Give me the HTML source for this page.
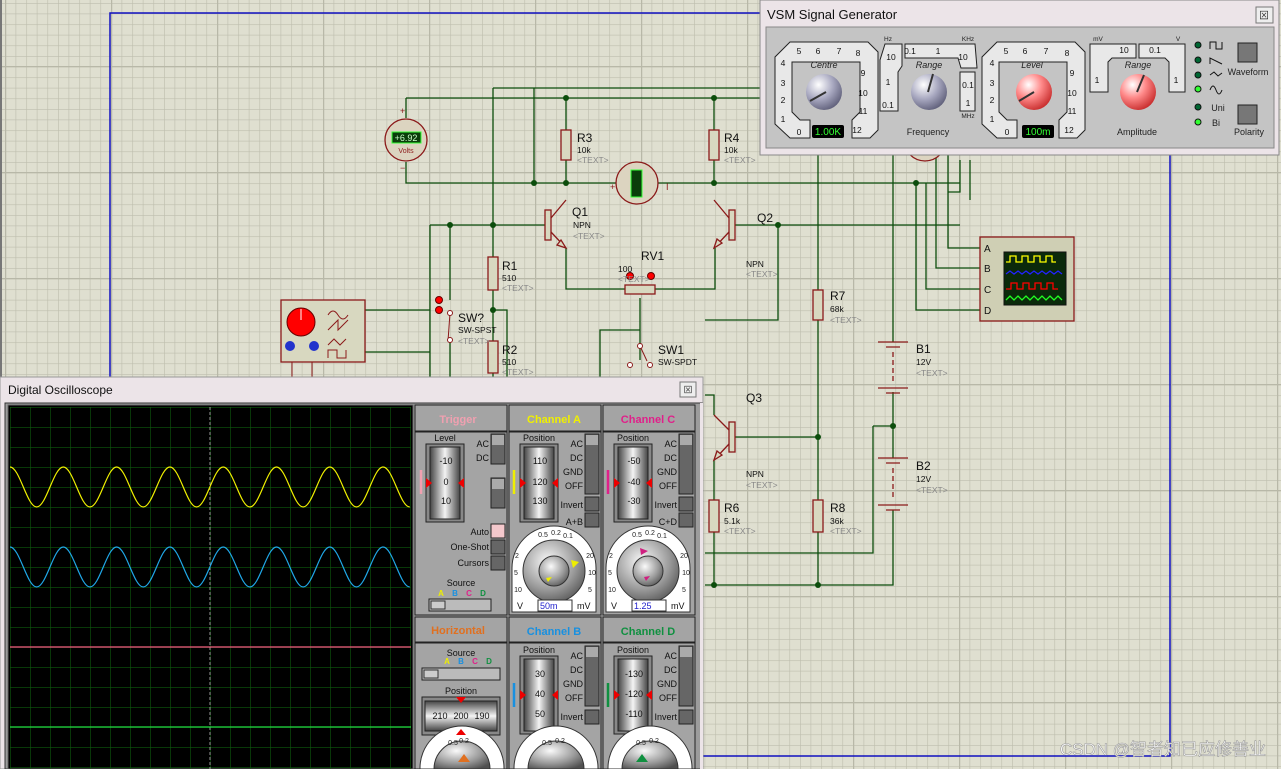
<!DOCTYPE html>
<html><head><meta charset="utf-8"><style>
html,body{margin:0;padding:0;width:1281px;height:769px;overflow:hidden;background:#dfdfd0}
svg{display:block}
text{font-family:"Liberation Sans","Noto Sans CJK SC",sans-serif}
</style></head><body>
<svg width="1281" height="769" viewBox="0 0 1281 769" xmlns="http://www.w3.org/2000/svg">
<defs>
<clipPath id="cp"><rect x="0" y="0" width="1281" height="769"/></clipPath>
<pattern id="g" x="5" y="3" width="10.6" height="10.6" patternUnits="userSpaceOnUse"><path d="M0 0H10.6M0 0V10.6" stroke="#bdbdad" stroke-width="1.2" fill="none"/></pattern>
<pattern id="G" x="111" y="66" width="106" height="106" patternUnits="userSpaceOnUse"><path d="M0 0H106M0 0V106" stroke="#b8b8a8" stroke-width="2.5" fill="none"/></pattern>
<pattern id="sg" x="10" y="407" width="20" height="20" patternUnits="userSpaceOnUse"><path d="M0 0H20M0 0V20" stroke="#0d5a0d" stroke-width="1.2" fill="none"/></pattern>
<radialGradient id="kb" cx="0.35" cy="0.3" r="0.8"><stop offset="0" stop-color="#fff"/><stop offset="0.5" stop-color="#a8a8c0"/><stop offset="1" stop-color="#555570"/></radialGradient>
<radialGradient id="kr" cx="0.35" cy="0.3" r="0.8"><stop offset="0" stop-color="#fff"/><stop offset="0.45" stop-color="#ff8a8a"/><stop offset="1" stop-color="#c02020"/></radialGradient>
<radialGradient id="kg" cx="0.4" cy="0.35" r="0.75"><stop offset="0" stop-color="#fafafa"/><stop offset="0.6" stop-color="#9a9a9a"/><stop offset="1" stop-color="#505050"/></radialGradient>
<linearGradient id="dr" x1="0" y1="0" x2="0" y2="1"><stop offset="0" stop-color="#444"/><stop offset="0.5" stop-color="#f4f4f4"/><stop offset="1" stop-color="#444"/></linearGradient>
<linearGradient id="dh" x1="0" y1="0" x2="1" y2="0"><stop offset="0" stop-color="#444"/><stop offset="0.5" stop-color="#f4f4f4"/><stop offset="1" stop-color="#444"/></linearGradient>
</defs>
<g clip-path="url(#cp)">
<rect width="1281" height="769" fill="#dfdfd0"/>
<rect width="1281" height="769" fill="url(#g)"/>
<rect width="1281" height="769" fill="url(#G)"/>
<rect x="0" y="0" width="2" height="769" fill="#777"/>
<path d="M110 769V13H1170V756H110" stroke="#1010c0" stroke-width="1.5" fill="none"/>

<g stroke="#0c4d0c" stroke-width="1.3" fill="none">
<path d="M406 98H960M493 88H960M406 118V98M406 162V183H960"/>
<path d="M566 98V130M566 160V183M714 98V130M714 160V183"/>
<path d="M534 88V183M493 88V257M493 290V341M493 373V390"/>
<path d="M430 225H548M430 225V390M450 225V300M450 340V390"/>
<path d="M566 248V289H625M655 289H715V248"/>
<path d="M640 298V330M640 330H600V390M640 330V360"/>
<path d="M493 310H507V390"/>
<path d="M732 225H960M778 225V320H705"/>
<path d="M365 310H430M365 352H430"/>
<path d="M818 88V290M818 320V500M818 532V585"/>
<path d="M893 150V342M893 392V458M893 510V585H705M873 426H893M873 426V553H705"/>
<path d="M732 437H818M714 415V395H705M714 460V500M714 532V585"/>
<path d="M948 150V248H985M936 150V268H985M926 183V289H985M916 183V310H985"/>
<path d="M960 160V192H948M970 160V200"/>
</g>
<g fill="#0c4d0c">
<circle cx="566" cy="98" r="3"/><circle cx="714" cy="98" r="3"/><circle cx="566" cy="183" r="3"/><circle cx="714" cy="183" r="3"/><circle cx="534" cy="183" r="3"/>
<circle cx="450" cy="225" r="3"/><circle cx="493" cy="225" r="3"/><circle cx="493" cy="310" r="3"/><circle cx="778" cy="225" r="3"/>
<circle cx="818" cy="437" r="3"/><circle cx="818" cy="585" r="3"/><circle cx="714" cy="585" r="3"/><circle cx="893" cy="426" r="3"/><circle cx="916" cy="183" r="3"/>
</g>
<g fill="#d8d8c0" stroke="#8b1a1a" stroke-width="1.3">
<rect x="561" y="130" width="10" height="30"/><rect x="709" y="130" width="10" height="30"/>
<rect x="488" y="257" width="10" height="33"/><rect x="488" y="341" width="10" height="32"/>
<rect x="813" y="290" width="10" height="30"/><rect x="813" y="500" width="10" height="32"/><rect x="709" y="500" width="10" height="32"/>
<rect x="625" y="285" width="30" height="9"/>
</g>
<g stroke="#8b1a1a" stroke-width="1.3" fill="#d8d8c0">
<rect x="545" y="210" width="6" height="30"/><path d="M551 218L566 200M551 232L566 248" fill="none"/><path d="M566 248l-9 -3l4 -5z"/>
<rect x="729" y="210" width="6" height="30"/><path d="M729 218L714 200M729 232L714 248" fill="none"/><path d="M714 248l3 -9l5 4z"/>
<rect x="729" y="422" width="6" height="30"/><path d="M729 430L714 415M729 444L714 460" fill="none"/><path d="M714 460l3 -9l5 4z"/>
</g>
<g stroke="#8b1a1a" stroke-width="1.3" fill="#dcd4c0">
<circle cx="406" cy="140" r="21"/><circle cx="637" cy="183" r="21"/><circle cx="925" cy="140" r="21"/>
</g>
<rect x="392" y="132" width="29" height="11" fill="#0b3d0b" stroke="#3f3" stroke-width="1"/>
<text x="406" y="141" font-size="9" fill="#cfc" text-anchor="middle">+6.92</text>
<text x="406" y="153" font-size="7" fill="#8b1a1a" text-anchor="middle">Volts</text>
<rect x="631" y="170" width="11" height="27" fill="#0b3d0b" stroke="#3f3" stroke-width="1"/>
<text x="400" y="114" font-size="9" fill="#8b1a1a">+</text><text x="400" y="171" font-size="9" fill="#8b1a1a">−</text>
<text x="610" y="190" font-size="9" fill="#8b1a1a">+</text><text x="666" y="190" font-size="9" fill="#8b1a1a">I</text>
<g stroke="#8b1a1a" stroke-width="1.3">
<path d="M878 342H908M886 347H900M878 388H908M886 393H900"/>
<path d="M893 352V384" stroke-dasharray="5 3"/>
<path d="M878 458H908M886 463H900M878 505H908M886 510H900"/>
<path d="M893 468V500" stroke-dasharray="5 3"/>
</g>
<rect x="281" y="300" width="84" height="62" fill="#d8d8c0" stroke="#8b1a1a" stroke-width="1.3"/>
<circle cx="301" cy="322" r="14" fill="#f00" stroke="#600"/><path d="M301 309V320" stroke="#fff"/>
<circle cx="290" cy="346" r="5" fill="#2233cc"/><circle cx="314" cy="346" r="5" fill="#2233cc"/>
<path d="M328 315q5 -8 10 0t10 0M328 330l10 -10v10l10 -10M328 345l6 -6 6 6 6 -6M328 358v-8h9v8h9v-8" stroke="#8b1a1a" fill="none"/>
<path d="M292 362v15M312 362v15" stroke="#8b1a1a"/>
<g fill="#f00" stroke="#600"><circle cx="439" cy="300" r="3.5"/><circle cx="439" cy="310" r="3.5"/><circle cx="630" cy="276" r="3.5"/><circle cx="651" cy="276" r="3.5"/></g>
<path d="M450 313l-2 28" stroke="#8b1a1a" fill="none"/><circle cx="450" cy="313" r="2.5" fill="#fff" stroke="#8b1a1a"/><circle cx="450" cy="340" r="2.5" fill="#fff" stroke="#8b1a1a"/>
<path d="M640 346l7 15" stroke="#8b1a1a"/><circle cx="640" cy="346" r="2.5" fill="#fff" stroke="#8b1a1a"/><circle cx="630" cy="365" r="2.5" fill="#fff" stroke="#8b1a1a"/><circle cx="650" cy="365" r="2.5" fill="#fff" stroke="#8b1a1a"/>
<rect x="980" y="237" width="94" height="84" fill="#cfcfb4" stroke="#8b1a1a" stroke-width="1.3"/>
<rect x="1004" y="252" width="62" height="53" fill="#0b2a0b" stroke="#111"/>
<path d="M1006 262h4v-6h6v6h6v-6h6v6h6v-6h6v6h6v-6h6v6h4" stroke="#ff0" fill="none" stroke-width="1.3"/>
<path d="M1006 274l4 -3 4 3 4 -3 4 3 4 -3 4 3 4 -3 4 3 4 -3 4 3 4 -3 4 3 4 -3 4 3" stroke="#22f" fill="none" stroke-width="1.3"/>
<path d="M1006 289h5v-6h6v6h6v-6h6v6h6v-6h6v6h6v-6h6v6h5" stroke="#f00" fill="none" stroke-width="1.3"/>
<path d="M1006 300l4 -4 4 4 4 -4 4 4 4 -4 4 4 4 -4 4 4 4 -4 4 4 4 -4 4 4 4 -4 4 4" stroke="#2f2" fill="none" stroke-width="1.3"/>
<g font-size="10" fill="#111"><text x="984" y="252">A</text><text x="984" y="272">B</text><text x="984" y="293">C</text><text x="984" y="314">D</text></g>
<g fill="#111">
<g font-size="12"><text x="577" y="142">R3</text><text x="724" y="142">R4</text><text x="572" y="216">Q1</text><text x="757" y="222">Q2</text><text x="641" y="260">RV1</text><text x="502" y="270">R1</text><text x="502" y="354">R2</text><text x="458" y="322">SW?</text><text x="658" y="354">SW1</text><text x="830" y="300">R7</text><text x="916" y="353">B1</text><text x="916" y="470">B2</text><text x="746" y="402">Q3</text><text x="724" y="512">R6</text><text x="830" y="512">R8</text></g>
<g font-size="8.5"><text x="577" y="153">10k</text><text x="724" y="153">10k</text><text x="573" y="228">NPN</text><text x="746" y="267">NPN</text><text x="618" y="272">100</text><text x="502" y="281">510</text><text x="502" y="365">510</text><text x="458" y="333">SW-SPST</text><text x="658" y="365">SW-SPDT</text><text x="830" y="312">68k</text><text x="916" y="365">12V</text><text x="916" y="482">12V</text><text x="746" y="477">NPN</text><text x="724" y="524">5.1k</text><text x="830" y="524">36k</text></g>
</g>
<g fill="#888" font-size="8.5"><text x="577" y="163">&lt;TEXT&gt;</text><text x="724" y="163">&lt;TEXT&gt;</text><text x="573" y="239">&lt;TEXT&gt;</text><text x="746" y="277">&lt;TEXT&gt;</text><text x="618" y="282">&lt;TEXT&gt;</text><text x="502" y="291">&lt;TEXT&gt;</text><text x="502" y="375">&lt;TEXT&gt;</text><text x="458" y="344">&lt;TEXT&gt;</text><text x="830" y="323">&lt;TEXT&gt;</text><text x="916" y="376">&lt;TEXT&gt;</text><text x="916" y="493">&lt;TEXT&gt;</text><text x="746" y="488">&lt;TEXT&gt;</text><text x="724" y="534">&lt;TEXT&gt;</text><text x="830" y="534">&lt;TEXT&gt;</text></g>
<text x="1266" y="755" font-size="17" fill="#fff" stroke="#999" stroke-width="0.6" text-anchor="end">CSDN @智者知已应修善业</text>

<rect x="760" y="0" width="519" height="155" fill="#ece4e8" stroke="#888"/>
<text x="767" y="19" font-size="13" fill="#111">VSM Signal Generator</text>
<rect x="1256" y="7" width="17" height="16" fill="#eee" stroke="#777"/><text x="1264" y="19" font-size="10" text-anchor="middle" fill="#333">⊠</text>
<rect x="766" y="27" width="508" height="121" fill="#c4c4c4" stroke="#888"/>
<g fill="#e8e8e8" stroke="#222" stroke-width="1">
<path d="M790 42H868L878 52V130L870 138H852V120L860 112V62H792V112L800 120H810V138H790L775 124V57Z"/>
<path d="M885 44H902V66L898 72V111H880V60Z"/><path d="M905 44H975L977 68H961L958 58H905Z"/><path d="M960 72H975V111H960Z"/>
<path d="M997 42H1075L1085 52V130L1077 138H1059V120L1067 112V62H999V112L1007 120H1017V138H997L982 124V57Z"/>
<path d="M1090 44H1136V58H1112L1108 62V92H1090Z"/><path d="M1139 44H1185V92H1169V62L1165 58H1139Z"/>
</g>
<g font-size="8.5" fill="#111" text-anchor="middle">
<text x="799" y="54">5</text><text x="818" y="54">6</text><text x="839" y="54">7</text><text x="858" y="56">8</text><text x="783" y="66">4</text><text x="783" y="86">3</text><text x="783" y="103">2</text><text x="783" y="122">1</text><text x="799" y="135">0</text><text x="863" y="76">9</text><text x="863" y="96">10</text><text x="863" y="114">11</text><text x="857" y="133">12</text>
<text x="1006" y="54">5</text><text x="1025" y="54">6</text><text x="1046" y="54">7</text><text x="1067" y="56">8</text><text x="992" y="66">4</text><text x="992" y="86">3</text><text x="992" y="103">2</text><text x="992" y="122">1</text><text x="1007" y="135">0</text><text x="1072" y="76">9</text><text x="1072" y="96">10</text><text x="1072" y="114">11</text><text x="1069" y="133">12</text>
<text x="891" y="60">10</text><text x="888" y="85">1</text><text x="888" y="108">0.1</text><text x="910" y="54">0.1</text><text x="938" y="54">1</text><text x="963" y="60">10</text><text x="968" y="88">0.1</text><text x="968" y="106">1</text>
<text x="1124" y="53">10</text><text x="1097" y="83">1</text><text x="1155" y="53">0.1</text><text x="1176" y="83">1</text>
</g>
<g font-size="6.5" fill="#222" text-anchor="middle"><text x="888" y="41">Hz</text><text x="968" y="41">KHz</text><text x="968" y="118">MHz</text><text x="1098" y="41">mV</text><text x="1178" y="41">V</text></g>
<g font-size="9" fill="#222" text-anchor="middle" font-style="italic"><text x="824" y="68">Centre</text><text x="929" y="68">Range</text><text x="1032" y="68">Level</text><text x="1138" y="68">Range</text></g>
<g font-size="9" fill="#222" text-anchor="middle"><text x="928" y="135">Frequency</text><text x="1137" y="135">Amplitude</text><text x="1248" y="75">Waveform</text><text x="1249" y="135">Polarity</text><text x="1218" y="111">Uni</text><text x="1216" y="126">Bi</text></g>
<circle cx="824" cy="92" r="18" fill="url(#kb)"/><path d="M810 101L826 92" stroke="#333" stroke-width="2"/>
<circle cx="929" cy="92" r="18" fill="url(#kb)"/><path d="M928 92L933 74" stroke="#333" stroke-width="2"/>
<circle cx="1034" cy="92" r="18" fill="url(#kr)"/><path d="M1019 101L1034 92" stroke="#333" stroke-width="2"/>
<circle cx="1138" cy="92" r="18" fill="url(#kr)"/><path d="M1137 92L1144 75" stroke="#333" stroke-width="2"/>
<rect x="812" y="125" width="32" height="13" rx="2" fill="#000"/><text x="828" y="135" font-size="10" fill="#3f3" text-anchor="middle">1.00K</text>
<rect x="1022" y="125" width="32" height="13" rx="2" fill="#000"/><text x="1038" y="135" font-size="10" fill="#3f3" text-anchor="middle">100m</text>
<g stroke="#111"><circle cx="1198" cy="45" r="3" fill="#063"/><circle cx="1198" cy="60" r="3" fill="#063"/><circle cx="1198" cy="75" r="3" fill="#063"/><circle cx="1198" cy="89" r="3" fill="#3f3"/><circle cx="1198" cy="107" r="3" fill="#063"/><circle cx="1198" cy="122" r="3" fill="#3f3"/></g>
<path d="M1210 49v-7h6v7h6v-7M1210 64v-6l12 6M1210 75l4 -3 4 4 4 -3M1210 90q3 -8 6 0t6 0" stroke="#111" fill="none"/>
<rect x="1238" y="43" width="19" height="19" fill="#777" stroke="#222"/><rect x="1238" y="105" width="19" height="19" fill="#777" stroke="#222"/>

<rect x="0" y="377" width="703" height="392" fill="#ece4e8" stroke="#999"/>
<text x="8" y="394" font-size="12" fill="#111">Digital Oscilloscope</text>
<rect x="680" y="382" width="16" height="15" fill="#eee" stroke="#777"/><text x="688" y="393" font-size="9" text-anchor="middle" fill="#333">⊠</text>
<rect x="5" y="403" width="697" height="366" fill="#9c9c9c" stroke="#333"/>
<rect x="8" y="405" width="405" height="364" fill="#000" stroke="#666"/>
<rect x="10" y="407" width="401" height="362" fill="url(#sg)"/>
<path d="M210 407V769" stroke="#999" stroke-dasharray="3 2"/>
<path d="M10 647H411" stroke="#f56080" stroke-width="1.2"/>
<path d="M10 727H411" stroke="#20e040" stroke-width="1.2"/>
<path d="M10 467C19.7 467 26.95 507 36.65 507S53.6 467 63.3 467S80.25 507 89.95 507S106.9 467 116.6 467S133.55 507 143.25 507S160.2 467 169.9 467S186.85 507 196.55 507S213.5 467 223.2 467S240.15 507 249.850 507S266.8 467 276.5 467S293.45 507 303.15 507S320.1 467 329.8 467S346.75 507 356.45 507S373.4 467 383.1 467S400.05 507 409.75 507" stroke="#f0f000" fill="none" stroke-width="1.2"/>
<path d="M10 547C19.7 547 26.95 587 36.65 587S53.6 547 63.3 547S80.25 587 89.95 587S106.9 547 116.6 547S133.55 587 143.25 587S160.2 547 169.9 547S186.85 587 196.55 587S213.5 547 223.2 547S240.15 587 249.85 587S266.8 547 276.5 547S293.45 587 303.15 587S320.1 547 329.8 547S346.75 587 356.45 587S373.4 547 383.1 547S400.05 587 409.75 587" stroke="#20a8e8" fill="none" stroke-width="1.2"/>
<g fill="#a4a4a4" stroke="#222" stroke-width="1">
<rect x="415" y="405" width="92" height="26"/><rect x="509" y="405" width="92" height="26"/><rect x="603" y="405" width="92" height="26"/>
<rect x="415" y="432" width="92" height="183"/><rect x="509" y="432" width="92" height="183"/><rect x="603" y="432" width="92" height="183"/>
<rect x="415" y="617" width="92" height="25"/><rect x="509" y="617" width="92" height="25"/><rect x="603" y="617" width="92" height="25"/>
<rect x="415" y="643" width="92" height="126"/><rect x="509" y="643" width="92" height="126"/><rect x="603" y="643" width="92" height="126"/>
</g>
<g font-size="11" font-weight="bold" text-anchor="middle"><text x="458" y="423" fill="#f0a0b0">Trigger</text><text x="554" y="423" fill="#f0f000">Channel A</text><text x="648" y="423" fill="#e0208a">Channel C</text><text x="458" y="634" fill="#e07020">Horizontal</text><text x="554" y="635" fill="#1890e0">Channel B</text><text x="648" y="635" fill="#109040">Channel D</text></g>
<g stroke="#222"><rect x="426" y="444" width="38" height="78" fill="#888"/><rect x="430" y="447" width="30" height="72" fill="url(#dh)"/>
<rect x="520" y="444" width="38" height="78" fill="#888"/><rect x="524" y="447" width="30" height="72" fill="url(#dh)"/>
<rect x="614" y="444" width="38" height="78" fill="#888"/><rect x="618" y="447" width="30" height="72" fill="url(#dh)"/>
<rect x="520" y="656" width="38" height="78" fill="#888"/><rect x="524" y="659" width="30" height="72" fill="url(#dh)"/>
<rect x="614" y="656" width="38" height="78" fill="#888"/><rect x="618" y="659" width="30" height="72" fill="url(#dh)"/>
<rect x="422" y="697" width="78" height="38" fill="#888"/><rect x="425" y="701" width="72" height="30" fill="url(#dr)"/></g>
<g font-size="9" fill="#111" text-anchor="middle">
<text x="445" y="441">Level</text><text x="539" y="441">Position</text><text x="633" y="441">Position</text><text x="539" y="653">Position</text><text x="633" y="653">Position</text><text x="461" y="656">Source</text><text x="461" y="694">Position</text><text x="461" y="586">Source</text>
<text x="446" y="464">-10</text><text x="446" y="485">0</text><text x="446" y="504">10</text>
<text x="540" y="464">110</text><text x="540" y="485">120</text><text x="540" y="504">130</text>
<text x="634" y="464">-50</text><text x="634" y="485">-40</text><text x="634" y="504">-30</text>
<text x="540" y="677">30</text><text x="540" y="697">40</text><text x="540" y="717">50</text>
<text x="634" y="677">-130</text><text x="634" y="697">-120</text><text x="634" y="717">-110</text>
<text x="440" y="719">210</text><text x="461" y="719">200</text><text x="482" y="719">190</text>
</g>
<g font-size="9" fill="#111" text-anchor="end">
<text x="489" y="447">AC</text><text x="489" y="461">DC</text><text x="489" y="535">Auto</text><text x="489" y="550">One-Shot</text><text x="489" y="566">Cursors</text>
<text x="583" y="447">AC</text><text x="583" y="461">DC</text><text x="583" y="475">GND</text><text x="583" y="489">OFF</text><text x="583" y="508">Invert</text><text x="583" y="525">A+B</text>
<text x="677" y="447">AC</text><text x="677" y="461">DC</text><text x="677" y="475">GND</text><text x="677" y="489">OFF</text><text x="677" y="508">Invert</text><text x="677" y="525">C+D</text>
<text x="583" y="659">AC</text><text x="583" y="673">DC</text><text x="583" y="687">GND</text><text x="583" y="701">OFF</text><text x="583" y="720">Invert</text>
<text x="677" y="659">AC</text><text x="677" y="673">DC</text><text x="677" y="687">GND</text><text x="677" y="701">OFF</text><text x="677" y="720">Invert</text>
</g>
<g fill="#666" stroke="#222"><rect x="491" y="434" width="14" height="30"/><rect x="491" y="478" width="14" height="30"/><rect x="585" y="434" width="14" height="60"/><rect x="679" y="434" width="14" height="60"/><rect x="585" y="646" width="14" height="60"/><rect x="679" y="646" width="14" height="60"/>
<rect x="491" y="540" width="14" height="14"/><rect x="491" y="556" width="14" height="14"/><rect x="585" y="497" width="14" height="14"/><rect x="585" y="513" width="14" height="14"/><rect x="679" y="497" width="14" height="14"/><rect x="679" y="513" width="14" height="14"/><rect x="585" y="710" width="14" height="14"/><rect x="679" y="710" width="14" height="14"/></g>
<rect x="491" y="524" width="14" height="14" fill="#f4c8cc" stroke="#222"/>
<g fill="#aaa"><rect x="492" y="435" width="12" height="10"/><rect x="492" y="479" width="12" height="10"/><rect x="586" y="435" width="12" height="10"/><rect x="680" y="435" width="12" height="10"/><rect x="586" y="647" width="12" height="10"/><rect x="680" y="647" width="12" height="10"/></g>
<g font-size="8" font-weight="bold" text-anchor="middle"><text x="441" y="596" fill="#ee0">A</text><text x="455" y="596" fill="#1890e0">B</text><text x="469" y="596" fill="#e0208a">C</text><text x="483" y="596" fill="#109040">D</text><text x="447" y="664" fill="#ee0">A</text><text x="461" y="664" fill="#1890e0">B</text><text x="475" y="664" fill="#e0208a">C</text><text x="489" y="664" fill="#109040">D</text></g>
<rect x="429" y="599" width="62" height="12" fill="#bbb" stroke="#222"/><rect x="431" y="601" width="14" height="8" fill="#ccc" stroke="#333"/>
<rect x="422" y="668" width="78" height="12" fill="#bbb" stroke="#222"/><rect x="424" y="670" width="14" height="8" fill="#ccc" stroke="#333"/>
<g stroke="#333">
<path d="M512 612V568A42 42 0 0 1 596 568V612Z" fill="#fff"/><circle cx="554" cy="571" r="31" fill="url(#kg)"/><circle cx="554" cy="571" r="15" fill="url(#kg)"/>
<path d="M606 612V568A42 42 0 0 1 690 568V612Z" fill="#fff"/><circle cx="648" cy="571" r="31" fill="url(#kg)"/><circle cx="648" cy="571" r="15" fill="url(#kg)"/>
<path d="M420 769V768A42 42 0 0 1 504 768V769Z" fill="#fff"/><path d="M514 769V768A42 42 0 0 1 598 768V769Z" fill="#fff"/><path d="M608 769V768A42 42 0 0 1 692 768V769Z" fill="#fff"/>
<path d="M434 769A28 28 0 0 1 490 769Z" fill="url(#kg)"/><path d="M528 769A28 28 0 0 1 584 769Z" fill="url(#kg)"/><path d="M622 769A28 28 0 0 1 678 769Z" fill="url(#kg)"/>
</g>
<g font-size="7" fill="#222" text-anchor="middle">
<text x="543" y="537">0.5</text><text x="556" y="535">0.2</text><text x="568" y="538">0.1</text><text x="517" y="558">2</text><text x="516" y="575">5</text><text x="518" y="592">10</text><text x="590" y="558">20</text><text x="592" y="575">10</text><text x="590" y="592">5</text>
<text x="637" y="537">0.5</text><text x="650" y="535">0.2</text><text x="662" y="538">0.1</text><text x="611" y="558">2</text><text x="610" y="575">5</text><text x="612" y="592">10</text><text x="684" y="558">20</text><text x="686" y="575">10</text><text x="684" y="592">5</text>
<text x="453" y="745">0.5</text><text x="464" y="743">0.2</text><text x="547" y="745">0.5</text><text x="560" y="743">0.2</text><text x="641" y="745">0.5</text><text x="654" y="743">0.2</text>
</g>
<rect x="538" y="600" width="34" height="11" fill="#fff" stroke="#333"/><text x="540" y="609" font-size="9" fill="#22c">50m</text>
<rect x="632" y="600" width="34" height="11" fill="#fff" stroke="#333"/><text x="634" y="609" font-size="9" fill="#22c">1.25</text>
<g font-size="9" fill="#111"><text x="517" y="609">V</text><text x="577" y="609">mV</text><text x="611" y="609">V</text><text x="671" y="609">mV</text></g>
<path d="M571 560l8 2-6 6z" fill="#ee0"/><path d="M546 578l6 -1-4 5z" fill="#ee0"/>
<path d="M640 548l8 3-7 4z" fill="#d02080"/><path d="M644 577l6 -1-4 5z" fill="#d02080"/>
<path d="M458 762l6 -8 6 8z" fill="#e07020"/><path d="M636 762l6 -8 6 8z" fill="#109040"/>
<g fill="#e00"><path d="M426 478l6 5-6 5z"/><path d="M464 478l-6 5 6 5z"/><path d="M520 478l6 5-6 5z"/><path d="M558 478l-6 5 6 5z"/><path d="M614 478l6 5-6 5z"/><path d="M652 478l-6 5 6 5z"/><path d="M520 690l6 5-6 5z"/><path d="M558 690l-6 5 6 5z"/><path d="M614 690l6 5-6 5z"/><path d="M652 690l-6 5 6 5z"/><path d="M456 697l5 6 5-6z"/><path d="M456 735l5-6 5 6z"/></g>
<g stroke-width="2.5"><path d="M421 470v24" stroke="#f0a0b0"/><path d="M514 470v24" stroke="#ee0"/><path d="M608 470v24" stroke="#e0208a"/><path d="M514 683v24" stroke="#1890e0"/><path d="M608 683v24" stroke="#109040"/></g>
<rect x="700" y="403" width="3" height="366" fill="#ece4e8"/>
</g>
</svg>
</body></html>
